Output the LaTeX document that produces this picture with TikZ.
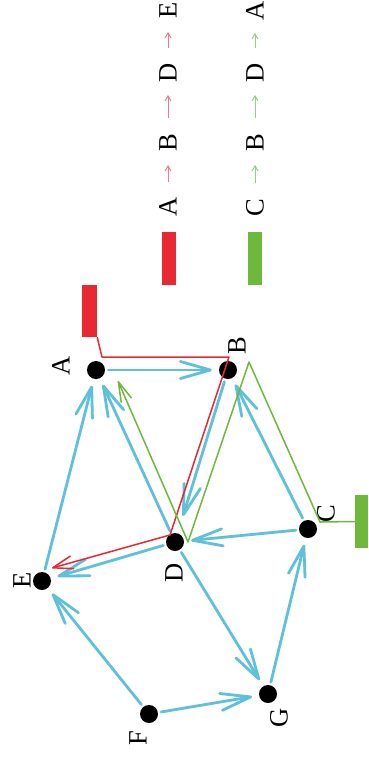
\documentclass[tikz,border=0pt]{standalone}
\usepackage{fontspec}
\setmainfont{Liberation Serif}
\usetikzlibrary{arrows.meta}
\definecolor{edgeblue}{RGB}{95,192,218}
\definecolor{pathred}{RGB}{232,40,50}
\definecolor{pathgreen}{RGB}{110,185,60}
\definecolor{legred}{RGB}{240,120,140}
\definecolor{leggreen}{RGB}{150,205,130}
\begin{document}
\begin{tikzpicture}[x=1pt,y=-1pt,
  dot/.style={circle,fill=black,inner sep=0pt,minimum size=18pt},
  lbl/.style={rotate=90,font=\fontsize{26.5}{30}\selectfont,inner sep=0pt},
  edge/.style={draw=edgeblue,line width=2.8pt,line cap=round,shorten <=3pt,shorten >=7pt,
    -{Straight Barb[length=30pt,width=17pt,round]}},
  redpath/.style={draw=pathred,line width=1.5pt,line join=round,
    -{Straight Barb[length=20pt,width=13pt,round]}},
  greenpath/.style={draw=pathgreen,line width=1.5pt,line join=round,
    -{Straight Barb[length=20pt,width=11pt,round]}},
  legarrowr/.style={draw=legred,line width=1pt,shorten <=25pt,shorten >=22pt,
    -{Straight Barb[length=5pt,width=6pt]}},
  legarrowg/.style={draw=leggreen,line width=1pt,shorten <=25pt,shorten >=22pt,
    -{Straight Barb[length=5pt,width=6pt]}},
  bar/.style={inner sep=0pt,minimum width=14pt,minimum height=53pt}
]
\useasboundingbox (0,0) rectangle (369,758);
\fill[white] (0,0) rectangle (369,758);

% legend
\node[bar,fill=pathred] (legbarr) at (169,258.5) {};
\node[bar,fill=pathgreen] (legbarg) at (255,258.5) {};
\node[lbl] (rA) at (168,207) {A};
\node[lbl] (rB) at (168,143) {B};
\node[lbl] (rD) at (168,73) {D};
\node[lbl] (rE) at (168,10) {E};
\node[lbl] (gC) at (255,208) {C};
\node[lbl] (gB) at (255,143) {B};
\node[lbl] (gD) at (255,73) {D};
\node[lbl] (gA) at (255,11) {A};
\draw[legarrowr] (rA.center) -- (rB.center);
\draw[legarrowr] (rB.center) -- (rD.center);
\draw[legarrowr] (rD.center) -- (rE.center);
\draw[legarrowg] (gC.center) -- (gB.center);
\draw[legarrowg] (gB.center) -- (gD.center);
\draw[legarrowg] (gD.center) -- (gA.center);

% graph nodes
\node[dot] (A) at (96,370) {};
\node[dot] (B) at (228,370) {};
\node[dot] (C) at (308,529) {};
\node[dot] (D) at (175,542) {};
\node[dot] (E) at (42,581) {};
\node[dot] (F) at (149,714) {};
\node[dot] (G) at (268,694) {};
\node[lbl] (lA) at (61,366) {A};
\node[lbl] (lB) at (237,346) {B};
\node[lbl] (lC) at (326,514) {C};
\node[lbl] (lD) at (174,573) {D};
\node[lbl] (lE) at (22,580) {E};
\node[lbl] (lF) at (138,738) {F};
\node[lbl] (lG) at (279,718) {G};

% edges
\draw[edge] (A) -- (B);
\draw[edge] (E) -- (A);
\draw[edge] (D) -- (A);
\draw[edge,shorten >=18pt] (B) -- (D);
\draw[edge] (C) -- (B);
\draw[edge] (C) -- (D);
\draw[edge] (D) -- (E);
\draw[edge] (F) -- (E);
\draw[edge] (D) -- (G);
\draw[edge] (F) -- (G);
\draw[edge] (G) -- (C);

% red path A -> B -> D -> E
\node[bar,fill=pathred,minimum width=15pt,minimum height=52pt] (redbar) at (89.5,311) {};
\coordinate (r1) at (102,357);
\coordinate (r2) at (229,357);
\coordinate (r3) at (170,535);
\coordinate (r4) at (52,568);
\draw[redpath] (redbar.south east) -- (r1) -- (r2) -- (r3) -- (r4);

% green path C -> B -> D -> A
\node[bar,fill=pathgreen,minimum width=13pt,minimum height=53pt] (greenbar) at (361.5,521.5) {};
\coordinate (g1) at (320,522);
\coordinate (g2) at (249,362);
\coordinate (g3) at (188,542);
\coordinate (g4) at (118,381);
\draw[greenpath] (greenbar.west) -- (g1) -- (g2) -- (g3) -- (g4);
\end{tikzpicture}
\end{document}
